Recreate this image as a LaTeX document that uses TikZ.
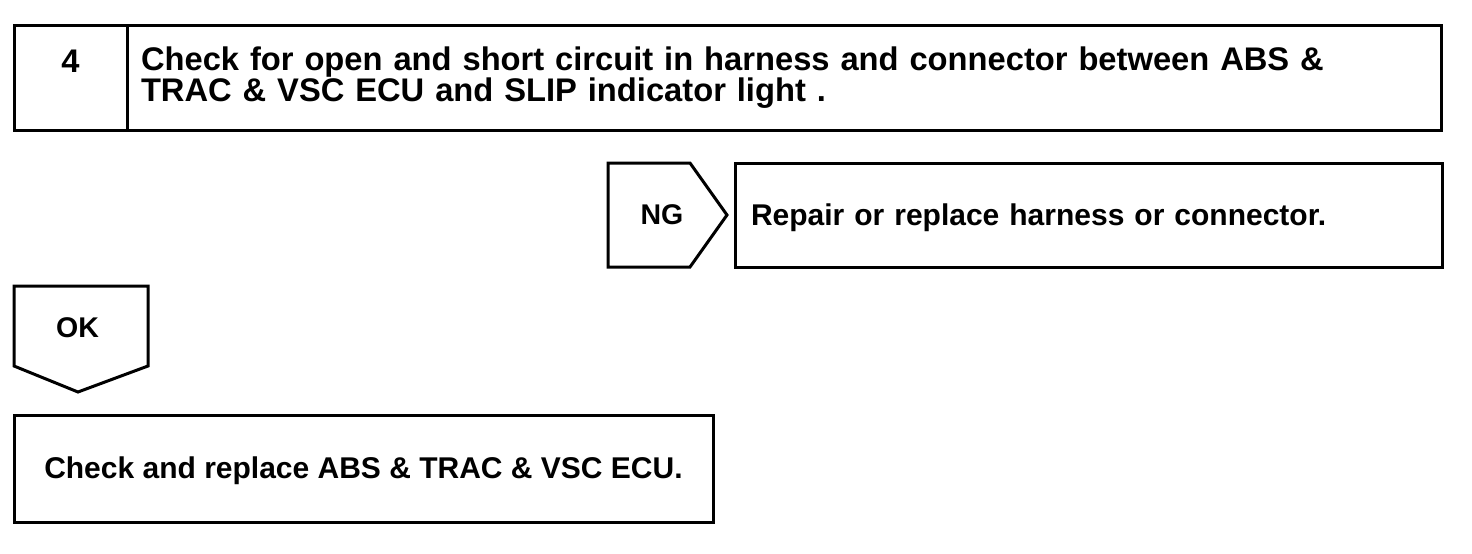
\documentclass[tikz,border=0pt]{standalone}
\usepackage{fontspec}
\setmainfont{Liberation Sans}
\tikzset{%
  stepbox/.style={draw,line width=3pt,inner ysep=0pt,outer sep=0pt},
  bigtext/.style={font=\fontsize{32.7}{24}\selectfont\bfseries},
  smalltext/.style={font=\fontsize{30}{24}\selectfont\bfseries},
  marktext/.style={font=\fontsize{28.5}{24}\selectfont\bfseries},
  marker/.style={draw,line width=3pt,line join=miter}
}
\begin{document}
\begin{tikzpicture}[x=1pt,y=-1pt]
  \useasboundingbox (0,0) rectangle (1472,554);
  \path
    (70.5,77.5) node (num)[stepbox,bigtext,minimum width=113pt,minimum height=105pt,
      text height=22pt,text depth=33pt]{4}
    (784,77.5) node (check)[stepbox,bigtext,minimum width=1314pt,minimum height=105pt,
      inner xsep=14pt,text width=1286pt,align=left]
      {Check for open and short circuit in harness and connector between ABS \&\\
       TRAC \& VSC ECU and SLIP indicator light .}
    (1088.5,215) node (repair)[stepbox,smalltext,minimum width=707pt,minimum height=104pt,
      inner xsep=16pt,text width=675pt,align=left,text height=21pt,text depth=0pt]
      {Repair or replace harness or connector.}
    (363.5,468.5) node (ecu)[stepbox,smalltext,minimum width=699pt,minimum height=107pt,
      text height=20pt,text depth=0pt]
      {Check and replace ABS \& TRAC \& VSC ECU.};
  % NG and OK markers
  \draw[marker] (608,163) -- (690,163) -- (727,215) -- (690,267) -- (608,267) -- cycle;
  \node (ng)[marktext,inner sep=0pt,text height=19pt,text depth=0pt] at (662,214.5) {NG};
  \draw[marker] (14,286) -- (148,286) -- (148,366) -- (78,392) -- (14,366) -- cycle;
  \node (ok)[marktext,inner sep=0pt,text height=19pt,text depth=0pt] at (77.5,327.5) {OK};
\end{tikzpicture}
\end{document}
